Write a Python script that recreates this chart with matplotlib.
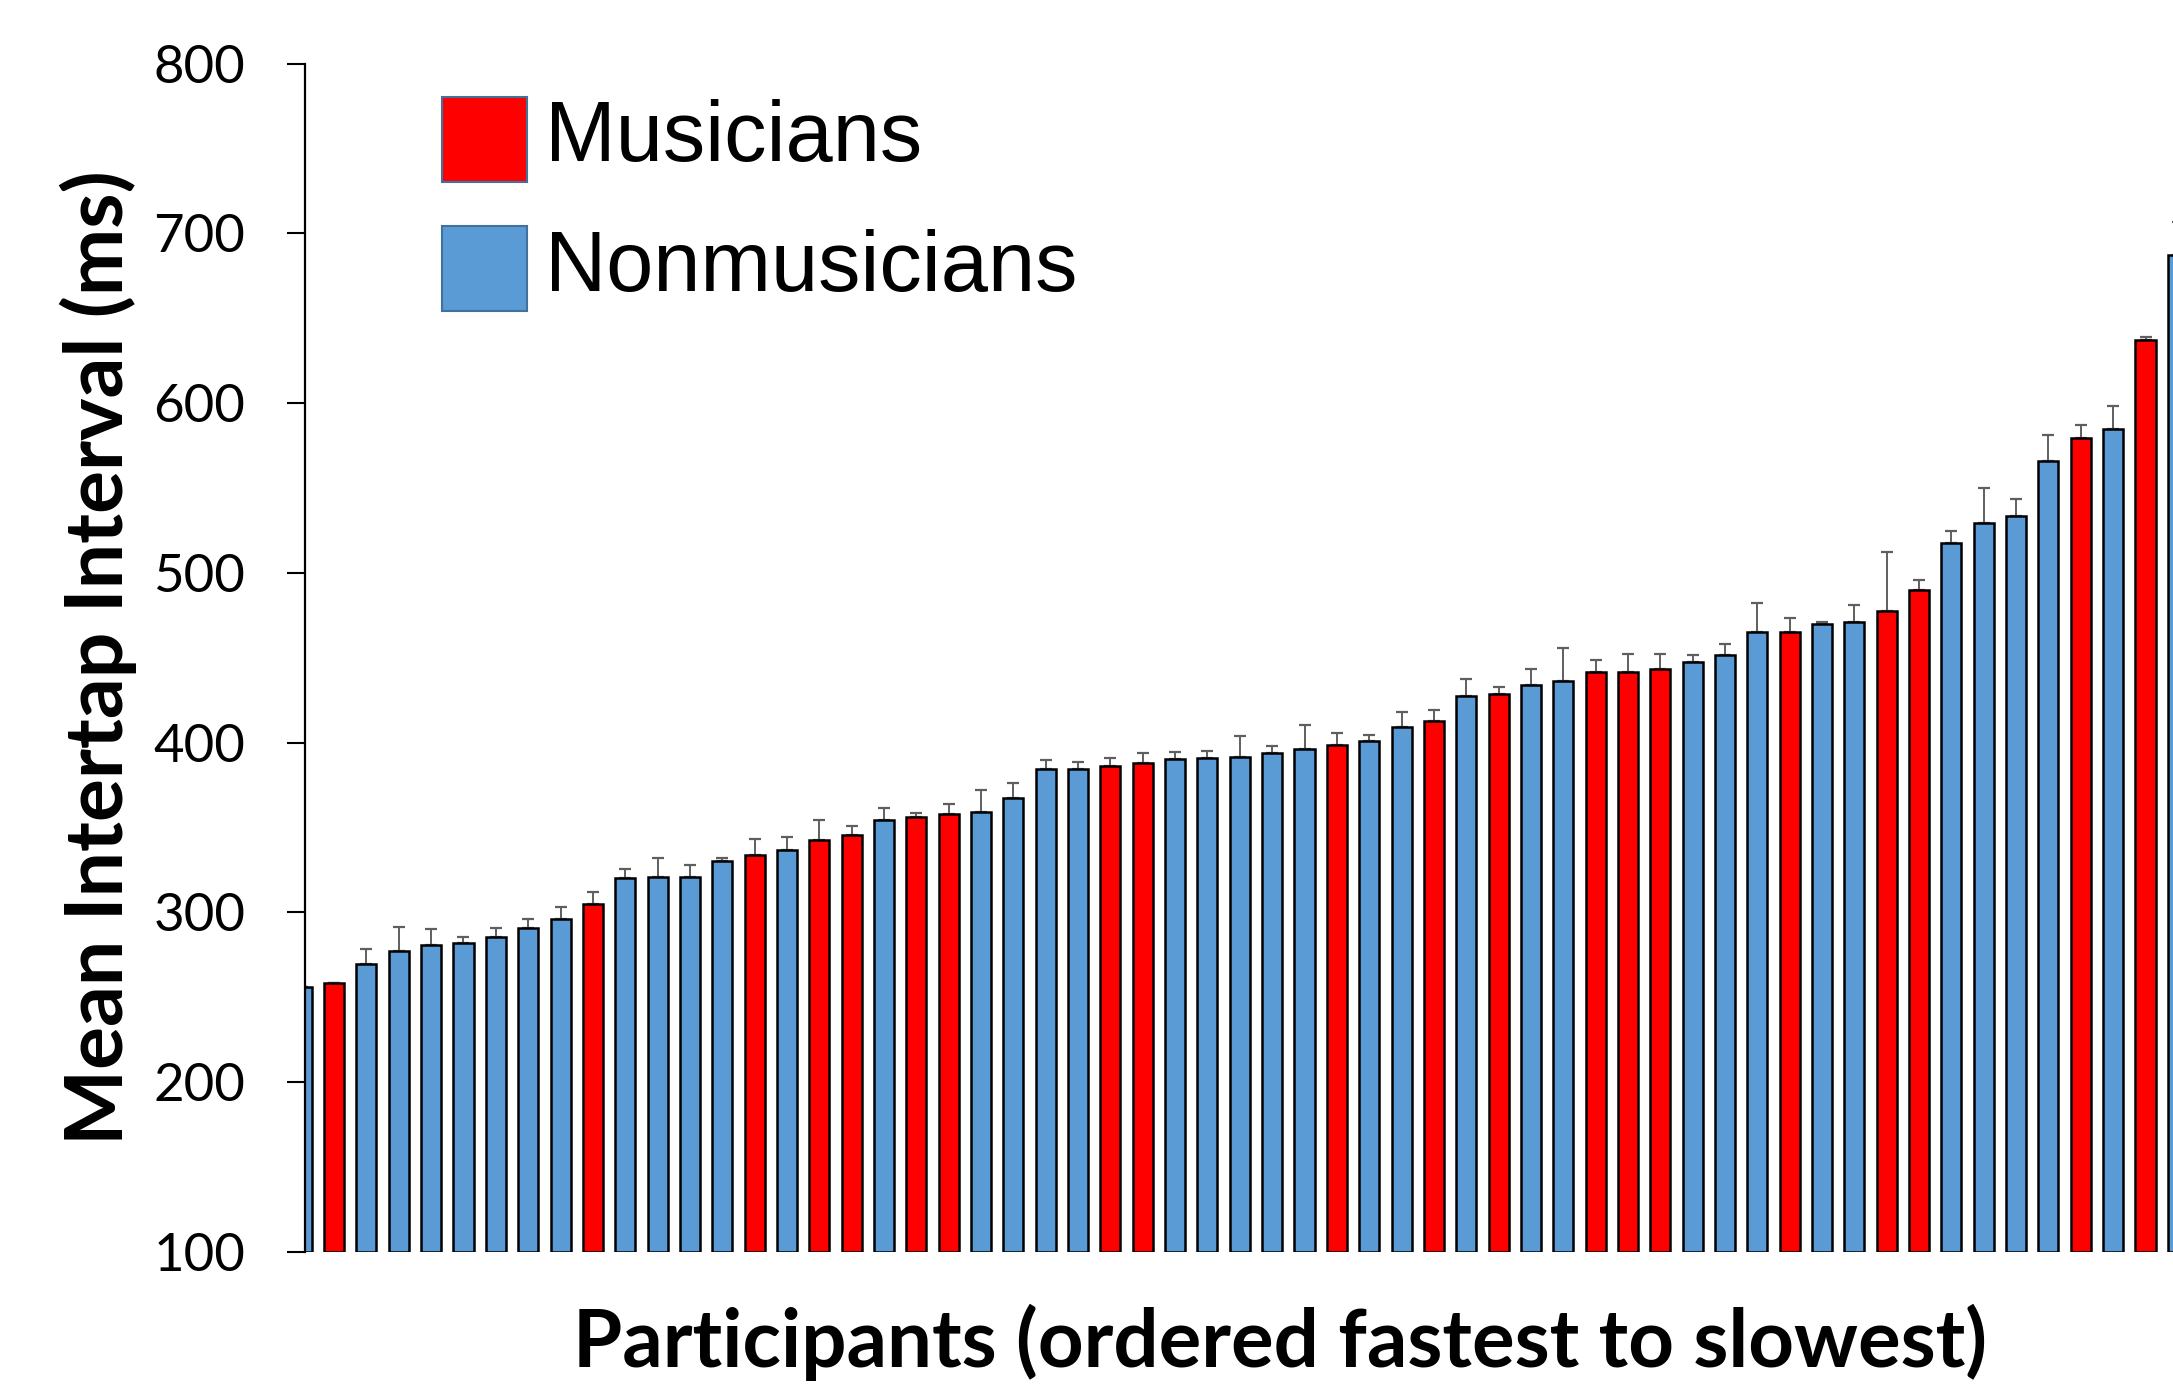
import matplotlib
matplotlib.use("Agg")
import matplotlib.pyplot as plt
from matplotlib.patches import Rectangle
import numpy as np

# mean intertap interval per participant, sorted fastest -> slowest
means = [256, 258.5, 269.5, 277.4, 280.7, 281.9, 285.6, 291.0, 296.3, 304.7,
         320.1, 320.5, 321.0, 330.3, 333.8, 336.5, 342.7, 345.3, 354.3, 356.3,
         357.7, 358.9, 367.5, 384.4, 384.4, 386.0, 387.9, 390.1, 390.9, 391.6,
         393.8, 396.2, 398.7, 400.7, 409.1, 412.7, 427.6, 428.4, 434.1, 436.0,
         441.7, 441.7, 443.1, 447.4, 451.3, 465.0, 465.4, 469.8, 470.9, 477.7,
         490.1, 517.5, 529.2, 533.4, 565.8, 579.3, 585.0, 637.1, 687.5]
# upper error bars (SE)
errors = [0, 0, 9.1, 13.8, 9.3, 3.4, 5.0, 5.3, 6.7, 7.5,
          5.3, 11.4, 6.7, 1.4, 9.1, 7.8, 11.8, 5.7, 7.1, 2.3,
          6.1, 13.4, 8.6, 5.3, 4.1, 4.7, 5.7, 4.5, 4.1, 12.2,
          4.1, 13.9, 6.9, 3.7, 9.0, 6.6, 9.6, 4.6, 9.4, 20.0,
          6.9, 10.3, 9.1, 3.9, 6.8, 17.5, 7.8, 1.1, 10.1, 34.7,
          5.7, 7.3, 20.7, 10.2, 15.4, 8.0, 13.2, 1.8, 19.2]
# M = musician, N = nonmusician
groups = list("NMNNNNNNNM"
              "NNNNMNMMNM"
              "MNNNNMMNNN"
              "NNMNNMNMNN"
              "MMMNNNMNNM"
              "MNNNNMNMN")

group_names = {"M": "Musicians", "N": "Nonmusicians"}
group_colors = {"M": "#FF0000", "N": "#5B9BD5"}
y_ticks = [100, 200, 300, 400, 500, 600, 700, 800]

W, H = 2173, 1387
fig = plt.figure(figsize=(W / 100, H / 100), dpi=100)
ax = fig.add_axes([305 / W, 1 - 1251.6 / H, 1 - 305 / W, (1251.6 - 63.8) / H])

x = np.arange(len(means))
base = y_ticks[0]
heights = np.array(means) - base
colors = [group_colors[g] for g in groups]

ax.errorbar(x, means, yerr=[np.zeros(len(errors)), errors], fmt="none",
            ecolor="#5f5f5f", elinewidth=1.4, capsize=4.3, capthick=1.6,
            zorder=1)
ax.bar(x, heights, bottom=base, width=0.62, color=colors,
       edgecolor="black", linewidth=1.8, zorder=2)

ax.set_xlim(0.1, 57.85)
ax.set_ylim(100, 800)
ax.set_yticks(y_ticks)
ax.set_yticklabels([str(t) for t in y_ticks], fontfamily="Lato", fontsize=38)
ax.tick_params(axis="y", length=13, width=1.5, pad=30, direction="out")
ax.set_xticks([])
for side in ("top", "right", "bottom"):
    ax.spines[side].set_visible(False)
ax.spines["left"].set_linewidth(1.6)

fig.text(98 / W, 1 - 658 / H, "Mean Intertap Interval (ms)", rotation=90,
         ha="center", va="center", fontfamily="Lato", fontweight="bold",
         fontsize=58)
fig.text(1280 / W, 1 - 1342 / H, "Participants (ordered fastest to slowest)",
         ha="center", va="center", fontfamily="Lato", fontweight="bold",
         fontsize=57.4)

# legend boxes
for i, key in enumerate(["M", "N"]):
    top = 97 + i * 129
    fig.add_artist(Rectangle((442 / W, 1 - (top + 85) / H), 85 / W, 85 / H,
                             transform=fig.transFigure,
                             facecolor=group_colors[key], edgecolor="#41719C",
                             linewidth=1.5))
    fig.text(545 / W, 1 - (top + 42.5) / H, group_names[key], ha="left",
             va="center", fontfamily="Liberation Sans", fontsize=61)

fig.savefig("out.png", dpi=100)
